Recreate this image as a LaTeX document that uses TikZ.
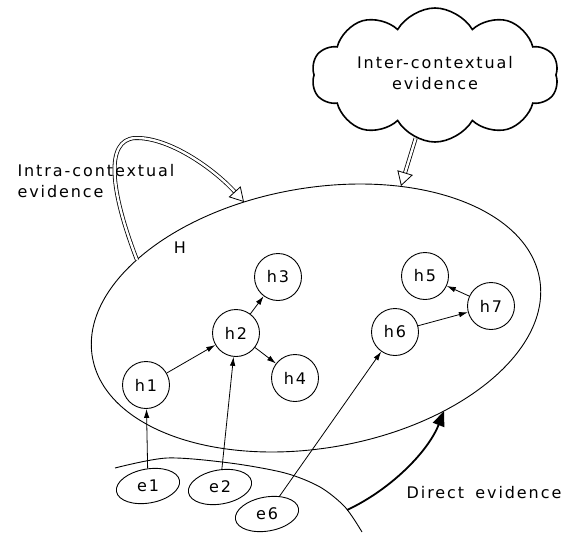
\documentclass[tikz,border=0pt]{standalone}
\usepackage{fontspec}
\setmainfont{DejaVu Sans}[LetterSpace=12, WordSpace=1.6]
\usepackage{graphicx}
\usetikzlibrary{arrows.meta, shapes.geometric, shapes.symbols, positioning}

\newcommand{\upright}[1]{\rotatebox{-10}{#1}}

\begin{document}
\begin{tikzpicture}[
    x=1pt, y=-1pt,
    every node/.style={font=\fontsize{16}{21}\selectfont},
    hyp/.style={circle, draw, line width=0.9pt, minimum size=47pt, inner sep=0pt},
    evid/.style={ellipse, draw, line width=0.9pt, rotate=10, minimum width=64pt, minimum height=34pt, inner sep=0pt},
    region/.style={line width=0.9pt},
    link/.style={-{Latex[length=9pt, width=5.5pt]}, line width=0.8pt},
    hollow/.style={double, double distance=2.4pt, line width=0.8pt, -{Triangle[open, length=14pt, width=16pt]}},
    directarrow/.style={line width=1.8pt, -{Triangle[length=15pt, width=12pt]}}
]
\useasboundingbox (0,0) rectangle (569,532);

% Set of hypotheses
\node[region, ellipse, draw, rotate=10, minimum width=454pt, minimum height=260pt, inner sep=0pt] (Hset) at (316,318) {};
\node (Hname) at (180,248) {H};

% Evidence boundary
\draw[region] plot[smooth] coordinates {(115,468) (167,458) (230,463) (285,473) (320,487) (345,507) (362,532)};

% Hypotheses
\node[hyp] (h1) at (146,385) {h1};
\node[hyp] (h2) at (236,333) {h2};
\node[hyp] (h3) at (278,277) {h3};
\node[hyp] (h4) at (295,378) {h4};
\node[hyp] (h5) at (425,276) {h5};
\node[hyp] (h6) at (395,332) {h6};
\node[hyp] (h7) at (491,306) {h7};

% Evidence
\node[evid] (e1) at (148,486) {\upright{e1}};
\node[evid] (e2) at (220,487) {\upright{e2}};
\node[evid] (e6) at (267,514) {\upright{e6}};

% Links
\draw[link] (e1) -- (h1);
\draw[link] (e2) -- (h2);
\draw[link] (e6) -- (h6);
\draw[link] (h1) -- (h2);
\draw[link] (h2) -- (h3);
\draw[link] (h2) -- (h4);
\draw[link] (h6) -- (h7);
\draw[link] (h7) -- (h5);

% Intra-contextual evidence
\node[align=left, anchor=west] (intraText) at (14,181) {Intra-contextual\\evidence};
\coordinate (intraFrom) at (137,260);
\coordinate (intraTo) at (244,202);
\draw[hollow] (intraFrom) .. controls (110,190) and (105,140) .. (135,138) .. controls (170,137) and (215,170) .. (intraTo);

% Inter-contextual evidence
\node[cloud, draw, line width=1.6pt, cloud puffs=10, cloud puff arc=120, cloud ignores aspect, minimum width=247pt, minimum height=134pt, align=center, inner sep=0pt] (inter) at (435,75) {\raisebox{-4pt}{\begin{tabular}{@{}c@{}}Inter-contextual\\evidence\end{tabular}}};
\coordinate (interTo) at (401,186);
\draw[hollow] (inter) -- (interTo);

% Direct evidence
\coordinate (directFrom) at (347,510);
\coordinate (directTo) at (444,411);
\draw[directarrow] (directFrom) .. controls (390,490) and (428,452) .. (directTo);
\node (directText) at (484,493) {Direct evidence};

\end{tikzpicture}
\end{document}
